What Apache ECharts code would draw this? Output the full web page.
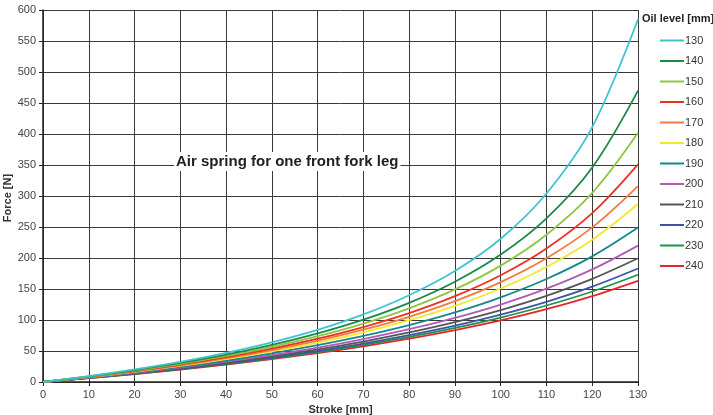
<!DOCTYPE html>
<html><head><meta charset="utf-8">
<script src="https://cdn.jsdelivr.net/npm/echarts@6/dist/echarts.min.js"></script>
<style>html,body{margin:0;padding:0;background:#fff}#c{width:713px;height:415px}</style>
</head><body><div id="c"></div>
<script>
var stroke = [0,10,20,30,40,50,60,70,80,90,100,110,120,130];
var oilLevels = ['130','140','150','160','170','180','190','200','210','220','230','240'];
var f130 = [0,9.4,20.2,32.5,47,64,84,109,140,179,231,304,411,585];
var f140 = [0,9,19.1,30.7,44.1,59.8,78.3,100.5,127.7,161.7,205.5,264,346,470];
var f150 = [0,8.6,18.3,29.3,42,56.7,73.8,94.3,118.9,149.3,187.7,237.6,305,402];
var f160 = [0,8.3,17.5,28,40,53.8,69.8,88.6,111.1,138.4,172.3,215.5,272.4,351];
var f170 = [0,8,16.9,27,38.4,51.5,66.6,84.3,105.1,130.3,161,199.6,249.4,316];
var f180 = [0,7.7,16.4,26,37,49.4,63.6,80.2,99.7,122.8,150.8,185.5,229.4,287];
var f190 = [0,7.3,15.5,24.6,34.7,46.2,59.3,74.3,91.7,112.2,136.6,166.1,202.6,249];
var f200 = [0,7,14.7,23.3,32.8,43.5,55.5,69.3,85.1,103.4,124.9,150.5,181.6,220];
var f210 = [0,6.7,14.1,22.2,31.2,41.3,52.6,65.3,79.9,96.6,116.1,139,166.3,199.5];
var f220 = [0,6.5,13.5,21.3,29.9,39.4,50,61.9,75.5,90.9,108.7,129.4,153.8,183];
var f230 = [0,6.3,13.1,20.7,29,38.1,48.3,59.8,72.6,87.3,104,123.4,146,173];
var f240 = [0,6.1,12.8,20,28,36.9,46.6,57.5,69.8,83.6,99.3,117.4,138.4,163];
var forces = [f130,f140,f150,f160,f170,f180,f190,f200,f210,f220,f230,f240];
var colors = ['#3fc4cf','#1b8a48','#8dc63f','#ee3124','#f47b3e','#f2e82e','#16878c','#b05bb5','#555555','#3a55a5','#1e9447','#e8242a'];
var yTicks = [0,50,100,150,200,250,300,350,400,450,500,550,600];

var chart = echarts.init(document.getElementById('c'), null, {renderer:'canvas'});
var FONT = 'Liberation Sans, Arial, sans-serif';
var series = oilLevels.map(function(name, i){
  return {
    name: name, type: 'line', smooth: 0.35, showSymbol: false, symbol: 'none',
    data: stroke.map(function(x, j){ return [x, forces[i][j]]; }),
    lineStyle: {color: colors[i], width: 1.8}, itemStyle: {color: colors[i]},
    z: 3 + (12 - i)
  };
});
chart.setOption({
  animation: false,
  textStyle: {fontFamily: FONT},
  grid: {left: 43, right: 75, top: 10, bottom: 33, containLabel: false, outerBoundsMode: 'none'},
  xAxis: {
    type: 'value', min: 0, max: 130, interval: 10,
    name: 'Stroke [mm]', nameLocation: 'middle', nameGap: 19,
    nameTextStyle: {fontFamily: FONT, fontWeight: 'bold', fontSize: 11, color: '#333'},
    axisLine: {lineStyle: {color: '#222', width: 1.5}},
    axisTick: {show: true, length: 4, lineStyle: {color: '#222'}},
    axisLabel: {fontFamily: FONT, fontSize: 11, color: '#444', margin: 7},
    splitLine: {show: true, lineStyle: {color: '#3a3a3a', width: 1}}
  },
  yAxis: {
    type: 'value', min: 0, max: 600, interval: 50,
    axisLine: {show: true, lineStyle: {color: '#222', width: 1.5}},
    axisTick: {show: true, length: 4, lineStyle: {color: '#222'}},
    axisLabel: {fontFamily: FONT, fontSize: 11, color: '#444', margin: 7},
    splitLine: {show: true, lineStyle: {color: '#3a3a3a', width: 1}}
  },
  legend: {
    orient: 'vertical', left: 655, top: 30, itemWidth: 24, itemHeight: 2, itemGap: 9.5,
    icon: 'rect', data: oilLevels,
    textStyle: {fontFamily: FONT, fontSize: 11, color: '#333', padding: [0,0,0,-4]}
  },
  graphic: [
    {type: 'text', x: 8, y: 198, rotation: Math.PI / 2, style: {text: 'Force [N]', font: 'bold 11px ' + FONT, fill: '#333', align: 'center', verticalAlign: 'middle'}},
    {type: 'text', left: 642, top: 13, style: {text: 'Oil level [mm]', font: 'bold 11px ' + FONT, fill: '#222'}},
    {type: 'text', left: 174, top: 152, z: 100, style: {text: 'Air spring for one front fork leg', font: 'bold 15px ' + FONT, fill: '#222', backgroundColor: '#fff', padding: [2,2]}}
  ],
  series: series
});
</script></body></html>
